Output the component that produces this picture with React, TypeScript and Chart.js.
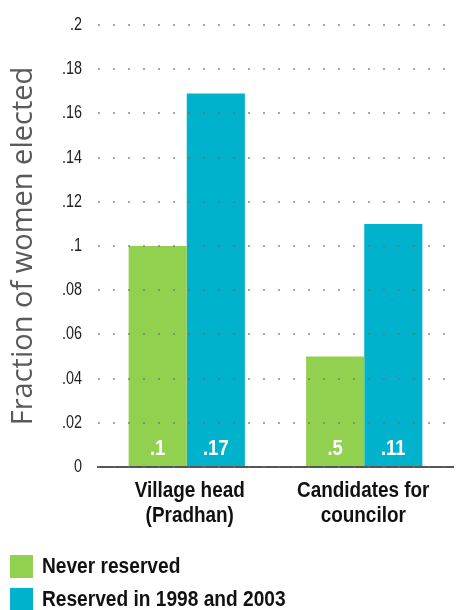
import React, { useEffect, useRef } from 'react';
import { Chart, registerables } from 'chart.js';

Chart.register(...registerables);

// ---- data ----
const categories = [['Village head', '(Pradhan)'], ['Candidates for', 'councilor']];
const seriesNames = ['Never reserved', 'Reserved in 1998 and 2003'];
const neverReserved = [0.1, 0.05];
const reservedSeries = [0.169, 0.11];
const neverReservedLabels = ['.1', '.5'];
const reservedLabels = ['.17', '.11'];
const yTickLabels = ['0', '.02', '.04', '.06', '.08', '.1', '.12', '.14', '.16', '.18', '.2'];
const yTitle = 'Fraction of women elected';

const seriesColors = ['#92D050', '#00B2CB'];
const SANS = "'Liberation Sans', Arial, sans-serif";

function drawNarrow(ctx: CanvasRenderingContext2D, text: string, x: number, y: number, sx: number, align: CanvasTextAlign) {
  ctx.save();
  ctx.translate(x, y);
  ctx.scale(sx, 1);
  ctx.textAlign = align;
  ctx.textBaseline = 'middle';
  ctx.fillText(text, 0, 0);
  ctx.restore();
}

const textPlugin = {
  id: 'narrowText',
  afterDraw(chart: any) {
    const ctx: CanvasRenderingContext2D = chart.ctx;
    const area = chart.chartArea;
    ctx.save();

    // y tick labels from the y scale
    const yScale = chart.scales.y;
    ctx.fillStyle = '#222222';
    ctx.font = `18px ${SANS}`;
    yScale.ticks.forEach((t: any, i: number) => {
      drawNarrow(ctx, yTickLabels[i], 82, yScale.getPixelForValue(t.value), 0.8, 'right');
    });

    // x category labels from the x scale
    const xScale = chart.scales.x;
    ctx.fillStyle = '#111111';
    ctx.font = `bold 22px ${SANS}`;
    categories.forEach((lines, i) => {
      const x = xScale.getPixelForTick(i);
      lines.forEach((line, k) => {
        drawNarrow(ctx, line, x + (i === 0 ? 3 : -1), area.bottom + 24 + k * 25, 0.86, 'center');
      });
    });

    // bar value labels
    const labelSets = [neverReservedLabels, reservedLabels];
    ctx.fillStyle = '#ffffff';
    ctx.font = `bold 22px ${SANS}`;
    chart.data.datasets.forEach((_: any, di: number) => {
      const meta = chart.getDatasetMeta(di);
      meta.data.forEach((el: any, j: number) => {
        drawNarrow(ctx, labelSets[di][j], el.x, area.bottom - 18, 0.84, 'center');
      });
    });

    // legend (stacked)
    chart.data.datasets.forEach((ds: any, i: number) => {
      const top = 555 + i * 33;
      ctx.fillStyle = ds.backgroundColor;
      ctx.fillRect(10, top, 23, 23);
      ctx.fillStyle = '#111111';
      ctx.font = `bold 22px ${SANS}`;
      drawNarrow(ctx, ds.label, 42, top + 12, 0.87, 'left');
    });

    ctx.restore();
  },
};

export default function App() {
  const canvasRef = useRef<HTMLCanvasElement | null>(null);

  useEffect(() => {
    if (!canvasRef.current) return;
    const chart = new Chart(canvasRef.current, {
      type: 'bar',
      data: {
        labels: categories as any,
        datasets: [
          {
            label: seriesNames[0],
            data: neverReserved,
            backgroundColor: seriesColors[0],
            categoryPercentage: 0.655,
            barPercentage: 1,
          },
          {
            label: seriesNames[1],
            data: reservedSeries,
            backgroundColor: seriesColors[1],
            categoryPercentage: 0.655,
            barPercentage: 1,
          },
        ],
      },
      options: {
        animation: false,
        responsive: false,
        layout: { padding: { top: 25, left: 0, right: 4, bottom: 80 } },
        plugins: {
          legend: { display: false },
          tooltip: { enabled: false },
        },
        scales: {
          x: {
            grid: { display: false },
            border: { display: true, color: '#555555', width: 2 },
            ticks: { display: false },
            afterFit(scale: any) {
              scale.height = 63;
            },
          },
          y: {
            min: 0,
            max: 0.2,
            ticks: {
              display: false,
              stepSize: 0.02,
            },
            grid: {
              color: 'rgba(110,110,110,0.6)',
              lineWidth: 2,
              drawTicks: false,
              z: 1,
            },
            border: { display: false, dash: [2, 13] },
            title: {
              display: true,
              text: yTitle,
              color: '#5a5a5a',
              font: { family: "'Open Sans', 'DejaVu Sans', sans-serif", size: 29, weight: 'normal' },
              padding: { top: 6, bottom: 0 },
            },
            afterFit(scale: any) {
              scale.width = 98;
            },
          },
        },
      },
      plugins: [textPlugin],
    });
    return () => chart.destroy();
  }, []);

  return (
    <div style={{ position: 'absolute', left: 0, top: 0, width: 457, height: 610, background: '#fff' }}>
      <canvas ref={canvasRef} width={457} height={610} style={{ display: 'block' }} />
    </div>
  );
}
